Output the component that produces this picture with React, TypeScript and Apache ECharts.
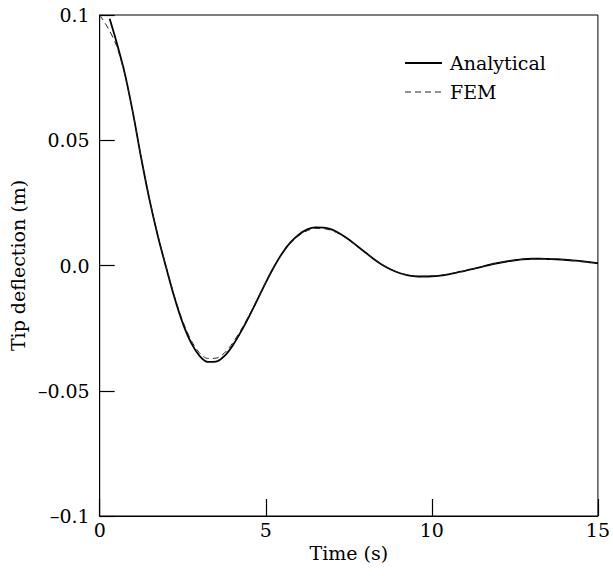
import React, { useEffect, useRef } from "react";
import * as echarts from "echarts";

// Analytical solution (time in s, tip deflection in m)
const tAnalytical = [0.3, 0.5, 0.75, 1.0, 1.25, 1.5, 1.75, 2.0, 2.25, 2.5, 2.75, 3.0, 3.25, 3.5, 3.75, 4.0, 4.25, 4.5, 4.75, 5.0, 5.25, 5.5, 5.75, 6.0, 6.25, 6.5, 6.75, 7.0, 7.25, 7.5, 7.75, 8.0, 8.25, 8.5, 8.75, 9.0, 9.25, 9.5, 9.75, 10.0, 10.25, 10.5, 10.75, 11.0, 11.25, 11.5, 11.75, 12.0, 12.25, 12.5, 12.75, 13.0, 13.25, 13.5, 13.75, 14.0, 14.25, 14.5, 14.75, 15.0];
const yAnalytical = [0.0985, 0.0895, 0.077, 0.061, 0.0428, 0.0262, 0.0118, -0.0008, -0.0128, -0.023, -0.0308, -0.036, -0.0385, -0.0384, -0.0362, -0.032, -0.0265, -0.0203, -0.0136, -0.0068, -0.0005, 0.005, 0.0093, 0.0124, 0.0144, 0.0152, 0.0151, 0.0143, 0.0126, 0.0104, 0.0078, 0.0052, 0.0026, 0.0003, -0.0015, -0.0029, -0.0038, -0.0043, -0.0044, -0.0043, -0.004, -0.0035, -0.0028, -0.0021, -0.0013, -0.0005, 0.0003, 0.001, 0.0016, 0.0021, 0.0025, 0.0027, 0.0027, 0.0026, 0.0025, 0.0023, 0.002, 0.0017, 0.0013, 0.0009];

// FEM solution
const tFem = [0, 0.25, 0.5, 0.75, 1.0, 1.25, 1.5, 1.75, 2.0, 2.25, 2.5, 2.75, 3.0, 3.25, 3.5, 3.75, 4.0, 4.25, 4.5, 4.75, 5.0, 5.25, 5.5, 5.75, 6.0, 6.25, 6.5, 6.75, 7.0, 7.25, 7.5, 7.75, 8.0, 8.25, 8.5, 8.75, 9.0, 9.25, 9.5, 9.75, 10.0, 10.25, 10.5, 10.75, 11.0, 11.25, 11.5, 11.75, 12.0, 12.25, 12.5, 12.75, 13.0, 13.25, 13.5, 13.75, 14.0, 14.25, 14.5, 14.75, 15.0];
const yFem = [0.1, 0.0948, 0.088, 0.0765, 0.061, 0.043, 0.0265, 0.0121, -0.0004, -0.0122, -0.0222, -0.0298, -0.0348, -0.0371, -0.037, -0.035, -0.031, -0.0258, -0.0198, -0.0133, -0.0066, -0.0005, 0.0048, 0.009, 0.012, 0.0139, 0.0148, 0.0147, 0.0139, 0.0123, 0.0102, 0.0077, 0.0051, 0.0026, 0.0004, -0.0014, -0.0028, -0.0037, -0.0042, -0.0043, -0.0042, -0.0039, -0.0034, -0.0028, -0.0021, -0.0013, -0.0005, 0.0003, 0.001, 0.0016, 0.0021, 0.0025, 0.0027, 0.0027, 0.0026, 0.0025, 0.0023, 0.002, 0.0017, 0.0013, 0.0009];

const seriesNames = ["Analytical", "FEM"];
const xTickLabels = ["0", "5", "10", "15"];
const yTickLabels = ["\u20130.1", "\u20130.05", "0.0", "0.05", "0.1"];

const FONT = "DejaVu Serif";

export default function App() {
  const ref = useRef<HTMLDivElement>(null);
  useEffect(() => {
    if (!ref.current) return;
    const chart = echarts.init(ref.current, undefined, { renderer: "svg" });
    chart.setOption({
      animation: false,
      backgroundColor: "#fff",
      textStyle: { fontFamily: FONT, color: "#000" },
      grid: {
        left: 95,
        right: 15,
        top: 15,
        bottom: 60,
        show: true,
        borderColor: "#000",
        borderWidth: 1,
      },
      graphic: [
        {
          type: "line",
          shape: { x1: 405, y1: 63, x2: 442, y2: 63 },
          style: { stroke: "#000", lineWidth: 1.8 },
        },
        {
          type: "text",
          x: 450,
          y: 63,
          style: {
            text: seriesNames[0],
            fontFamily: FONT,
            fontSize: 19,
            fill: "#000",
            verticalAlign: "middle",
          },
        },
        {
          type: "line",
          shape: { x1: 405, y1: 92, x2: 442, y2: 92 },
          style: { stroke: "#222", lineWidth: 1, lineDash: [6, 4] },
        },
        {
          type: "text",
          x: 450,
          y: 92,
          style: {
            text: seriesNames[1],
            fontFamily: FONT,
            fontSize: 19,
            fill: "#000",
            verticalAlign: "middle",
          },
        },
      ],
      xAxis: {
        type: "value",
        min: 0,
        max: 15,
        interval: 5,
        name: "Time (s)",
        nameLocation: "middle",
        nameGap: 27,
        nameTextStyle: { fontFamily: FONT, fontSize: 19, color: "#000" },
        axisLine: { show: true, onZero: false, lineStyle: { color: "#000", width: 1 } },
        axisTick: { show: true, inside: true, length: 17, lineStyle: { color: "#000", width: 1.2 } },
        axisLabel: {
          fontFamily: FONT,
          fontSize: 19,
          color: "#000",
          margin: 4,
          formatter: (_v: number, i: number) => xTickLabels[i],
        },
        splitLine: { show: false },
      },
      yAxis: {
        type: "value",
        min: -0.1,
        max: 0.1,
        interval: 0.05,
        name: "Tip deflection (m)",
        nameLocation: "middle",
        nameGap: 58,
        nameTextStyle: { fontFamily: FONT, fontSize: 19, color: "#000" },
        axisLine: { show: true, onZero: false, lineStyle: { color: "#000", width: 1 } },
        axisTick: { show: true, inside: true, length: 15, lineStyle: { color: "#000", width: 1.2 } },
        axisLabel: {
          fontFamily: FONT,
          fontSize: 19,
          color: "#000",
          margin: 10,
          formatter: (_v: number, i: number) => yTickLabels[i],
        },
        splitLine: { show: false },
      },
      series: [
        {
          name: seriesNames[0],
          type: "line",
          data: tAnalytical.map((t, i) => [t, yAnalytical[i]]),
          showSymbol: false,
          symbol: "none",
          smooth: 0.3,
          lineStyle: { color: "#000", width: 1.8, type: "solid" },
          z: 3,
        },
        {
          name: seriesNames[1],
          type: "line",
          data: tFem.map((t, i) => [t, yFem[i]]),
          showSymbol: false,
          symbol: "none",
          smooth: 0.3,
          lineStyle: { color: "#222", width: 1, type: [6, 4] },
          z: 4,
        },
      ],
    });
    return () => chart.dispose();
  }, []);
  return (
    <div
      ref={ref}
      style={{ position: "fixed", left: 0, top: 0, width: 613, height: 576 }}
    />
  );
}
